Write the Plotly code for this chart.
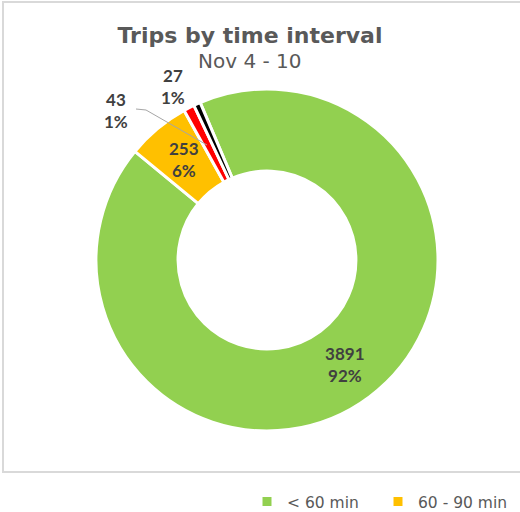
import plotly.graph_objects as go

# ---- data ----
categories = ["< 60 min", "60 - 90 min", "90 - 120 min", "> 120 min"]
trip_counts = [3891, 253, 43, 27]
slice_colors = ["#92D050", "#FFC000", "#FF0000", "#000000"]
title_text = "Trips by time interval"
subtitle_text = "Nov 4 - 10"

W, H = 520, 512
total = sum(trip_counts)


def px(x):
    return x / W


def py(y):
    return 1 - y / H


label_font = dict(family="Lato, 'DejaVu Sans', sans-serif", size=17, color="#404040", weight="bold")

fig = go.Figure(
    go.Pie(
        labels=categories,
        values=trip_counts,
        sort=False,
        direction="clockwise",
        rotation=-23,
        hole=0.52,
        marker=dict(colors=slice_colors, line=dict(color="#FFFFFF", width=3)),
        texttemplate="<b>%{value}<br>%{percent:.0%}</b>",
        textposition=["inside", "none", "none", "none"],
        insidetextorientation="horizontal",
        textfont=label_font,
        domain=dict(x=[px(96), px(438)], y=[py(431), py(89)]),
        hoverinfo="label+value+percent",
    )
)


def pct(v):
    return f"{round(100 * v / total)}%"


def slice_label(i, x, y):
    return dict(x=px(x), y=py(y), xref="paper", yref="paper",
                xanchor="center", yanchor="middle",
                text=f"<b>{trip_counts[i]}<br>{pct(trip_counts[i])}</b>",
                showarrow=False, font=label_font, align="center")


annotations = [
    slice_label(1, 184, 159),
    slice_label(2, 116, 110),
    slice_label(3, 173, 86),
    dict(x=px(250), y=py(61), xref="paper", yref="paper",
         xanchor="center", yanchor="middle",
         text=subtitle_text, showarrow=False,
         font=dict(family="DejaVu Sans, Verdana, sans-serif", size=20, color="#595959")),
]

shapes = [
    # chart border
    dict(type="rect", xref="paper", yref="paper",
         x0=px(3), x1=1.2, y0=py(472), y1=py(2),
         line=dict(color="#D9D9D9", width=2), fillcolor="rgba(0,0,0,0)", layer="below"),
    # leader line for the 43 label
    dict(type="path", xref="paper", yref="paper",
         path=f"M {px(136)} {py(109)} L {px(146)} {py(110)} L {px(207)} {py(145)}",
         line=dict(color="#A6A6A6", width=1)),
]

fig.update_layout(
    width=W, height=H,
    margin=dict(l=0, r=0, t=0, b=0, autoexpand=False),
    paper_bgcolor="#FFFFFF",
    plot_bgcolor="#FFFFFF",
    title=dict(text=title_text, x=px(250), xanchor="center", y=py(35), yanchor="middle",
               yref="container",
               font=dict(family="DejaVu Sans, Verdana, sans-serif", size=22, color="#595959", weight="bold")),
    showlegend=True,
    legend=dict(orientation="h", x=px(247), xanchor="left", y=py(485), yanchor="top",
                entrywidth=86, entrywidthmode="pixels",
                font=dict(family="DejaVu Sans, Verdana, sans-serif", size=15.5, color="#595959"),
                bgcolor="rgba(0,0,0,0)", itemclick=False),
    annotations=annotations,
    shapes=shapes,
)

fig.write_html(
    "out.html",
    config={"displayModeBar": False},
    post_script="document.body.style.margin='0px';document.body.style.overflow='hidden';",
)
